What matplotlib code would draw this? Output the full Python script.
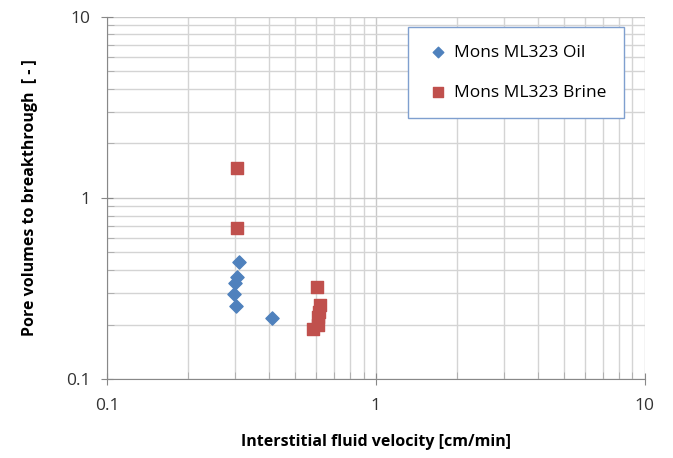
import numpy as np
import matplotlib.pyplot as plt
from matplotlib.ticker import LogLocator, FixedFormatter, FixedLocator

plt.rcParams['font.family'] = ['Open Sans', 'DejaVu Sans']

oil_v = [0.31, 0.305, 0.299, 0.297, 0.303, 0.41]
oil_pv = [0.445, 0.365, 0.34, 0.295, 0.254, 0.216]

brine_v = [0.305, 0.305, 0.605, 0.62, 0.615, 0.61, 0.607, 0.585]
brine_pv = [1.46, 0.68, 0.324, 0.255, 0.235, 0.22, 0.2, 0.188]

fig = plt.figure(figsize=(6.73, 4.58), dpi=100)
ax = fig.add_axes([0.159, 0.1725, 0.799, 0.7905])

ax.set_xscale('log')
ax.set_yscale('log')
ax.set_xlim(0.1, 10)
ax.set_ylim(0.1, 10)

ax.grid(True, which='major', color='#c8c8c8', linewidth=1.0)
ax.grid(True, which='minor', color='#d4d4d4', linewidth=1.0)
ax.set_axisbelow(True)

ax.scatter(oil_v, oil_pv, marker='D', s=45, color='#4F81BD', label='Mons ML323 Oil', zorder=3)
ax.scatter(brine_v, brine_pv, marker='s', s=75, color='#C0504D', label='Mons ML323 Brine', zorder=3)

ax.xaxis.set_major_locator(FixedLocator([0.1, 1, 10]))
ax.xaxis.set_major_formatter(FixedFormatter(['0.1', '1', '10']))
ax.yaxis.set_major_locator(FixedLocator([0.1, 1, 10]))
ax.yaxis.set_major_formatter(FixedFormatter(['0.1', '1', '10']))
ax.xaxis.set_minor_locator(LogLocator(base=10, subs=np.arange(2, 10)))
ax.yaxis.set_minor_locator(LogLocator(base=10, subs=np.arange(2, 10)))
ax.xaxis.set_minor_formatter(FixedFormatter([]))
ax.yaxis.set_minor_formatter(FixedFormatter([]))

for s in ['top', 'right']:
    ax.spines[s].set_visible(False)
for s in ['left', 'bottom']:
    ax.spines[s].set_color('#888888')
ax.tick_params(which='major', direction='inout', length=8, color='#888888', labelsize=12.5, labelcolor='#333333')
ax.tick_params(axis='x', which='major', pad=10)
ax.tick_params(axis='y', which='major', pad=8)
ax.tick_params(which='minor', direction='in', length=5, color='#aaaaaa')

ax.set_xlabel('Interstitial fluid velocity [cm/min]', fontsize=11.5, fontweight='bold', labelpad=14)
ax.set_ylabel('Pore volumes to breakthrough  [ - ]', fontsize=11.5, fontweight='bold', labelpad=20)

leg = ax.legend(loc='upper left', bbox_to_anchor=(0.559, 0.972), fontsize=12.5, frameon=True,
                fancybox=False, edgecolor='#7f9fcf', framealpha=1, handletextpad=0.2,
                labelspacing=1.4, borderpad=1.0, markerscale=0.8, handlelength=1.5,
                borderaxespad=0)
leg.get_frame().set_linewidth(1.0)

plt.savefig('out.png', dpi=100)
